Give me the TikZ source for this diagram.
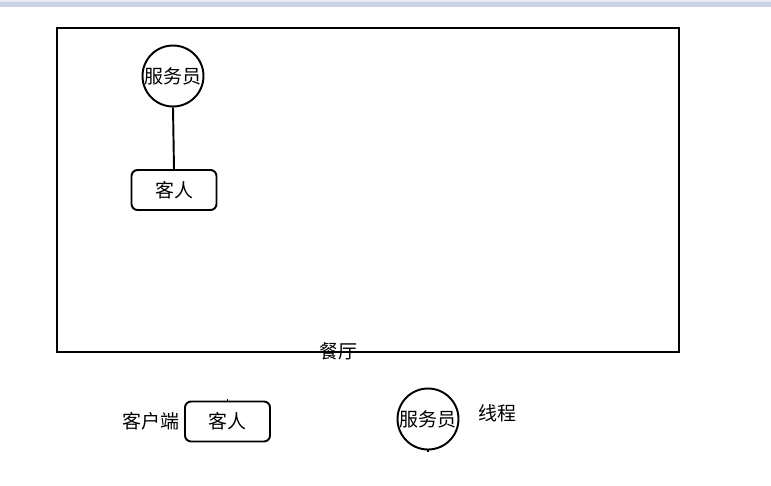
\documentclass[tikz,border=0pt]{standalone}
\usepackage{fontspec}
\setmainfont{Noto Sans CJK SC}
\usetikzlibrary{positioning}
\definecolor{bandblue}{RGB}{200,210,228}
\definecolor{bandgray}{RGB}{232,234,238}

\begin{document}
\begin{tikzpicture}[x=0.02cm,y=-0.02cm,line width=1.1pt,
    font=\fontsize{10.8}{13}\selectfont,
    waiter/.style={draw,circle,inner sep=-6pt,minimum size=1.22cm},
    guest/.style={draw,rounded corners=0.12cm,minimum width=1.7cm,minimum height=0.8cm}]
    \useasboundingbox (0,0) rectangle (771,485);
    % top band
    \fill[bandgray] (0,0) rectangle (771,2);
    \fill[bandblue] (0,2) rectangle (771,7);

    % Restaurant
    \draw (57,28) rectangle (679,352);
    \node (hallname) at (338,351) {餐厅};

    % Waiter with guest
    \node[waiter] (waiter) at (173,76) {服务员};
    \node[guest] (guest) at (174,190) {客人};
    \draw (waiter.south) -- (guest.north);

    % Legend
    \node[guest] (client) at (227.5,421.5) {客人};
    \node[left=-1pt of client] (clientname) {客户端};
    \draw[line width=0.6pt] (client.north) -- ++(0,-2);
    \node[waiter] (thread) at (428,419) {服务员};
    \node[right=7pt of thread,yshift=3pt] (threadname) {线程};
    \draw[line width=0.6pt] (thread.south) -- ++(0,2);
\end{tikzpicture}
\end{document}
